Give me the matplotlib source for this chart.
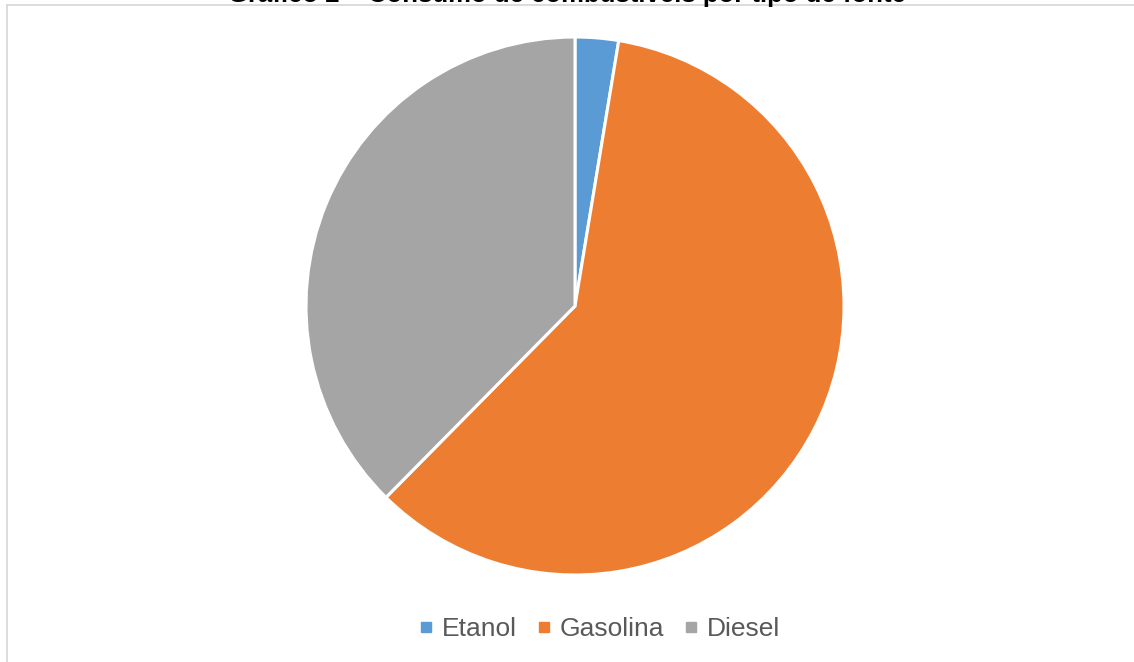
import matplotlib
matplotlib.use("Agg")
import matplotlib.pyplot as plt
from matplotlib.lines import Line2D

categories = ["Etanol", "Gasolina", "Diesel"]
values = [2.6, 59.8, 37.6]
colors = ["#5B9BD5", "#ED7D31", "#A5A5A5"]
title = "Gráfico 2 – Consumo de combustíveis por tipo de fonte"

plt.rcParams['font.family'] = ['Liberation Sans', 'DejaVu Sans']

W, H = 1134, 662
fig = plt.figure(figsize=(W / 100, H / 100), dpi=100)
fig.patch.set_facecolor("white")

# chart border (only top and left visible)
fig.add_artist(Line2D([7 / W, 7 / W], [0, 1 - 5 / H], color="#D9D9D9", lw=1.3,
                      transform=fig.transFigure))
fig.add_artist(Line2D([7 / W, 1], [1 - 5 / H, 1 - 5 / H], color="#D9D9D9", lw=1.3,
                      transform=fig.transFigure))

cx, cy, r = 575, 306, 269
ax = fig.add_axes([(cx - r) / W, (H - cy - r) / H, 2 * r / W, 2 * r / H])
wedges, _ = ax.pie(values, colors=colors, startangle=90, counterclock=False,
                   radius=1, wedgeprops=dict(edgecolor="white", linewidth=2.2))
ax.set_xlim(-1, 1)
ax.set_ylim(-1, 1)
ax.set_aspect("equal")
ax.axis("off")

# title lies mostly above the visible area, as in the reference
fig.text(0.5, 1 - 1.6 / H, title, ha="center", va="baseline", fontsize=18.5,
         fontweight="bold", color="black")

handles = [Line2D([0], [0], marker="s", linestyle="none", markersize=6.5,
                  markerfacecolor=c, markeredgecolor=c) for c in colors]
fig.legend(handles, categories, loc="center", bbox_to_anchor=(600 / W, (H - 629) / H),
           ncol=3, frameon=False, fontsize=19, handlelength=0.5, handletextpad=0.35,
           columnspacing=0.77, labelcolor="#595959")

fig.savefig("out.png", dpi=100)
